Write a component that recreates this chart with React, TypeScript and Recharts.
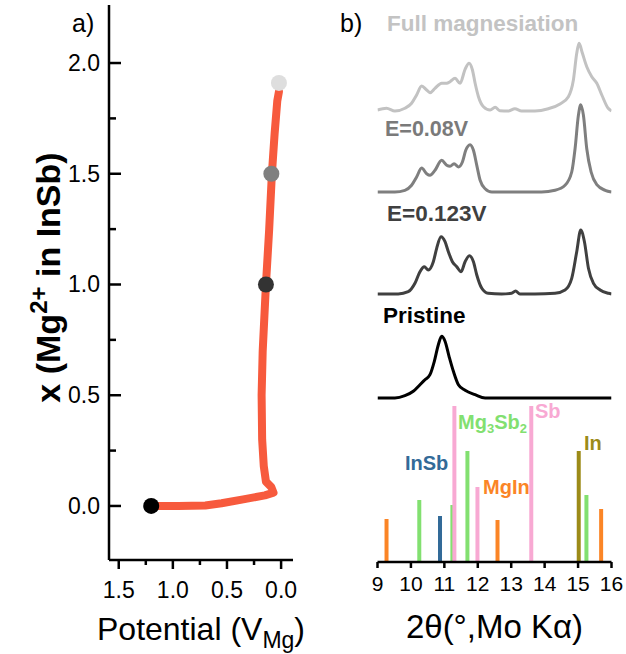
import React from "react";
import { ComposedChart, Line, Scatter, Cell, XAxis, YAxis, Label } from "recharts";

const FONT = "'Liberation Sans', Arial, Helvetica, sans-serif";

// ---- panel a: x(Mg) vs potential ----
const potential = [1.2, 0.95, 0.7, 0.55, 0.35, 0.15, 0.07, 0.09, 0.14, 0.16, 0.175, 0.18, 0.17, 0.155, 0.14, 0.11, 0.085, 0.06, 0.035, 0.02];
const xMg = [0, 0, 0.002, 0.012, 0.03, 0.048, 0.06, 0.085, 0.11, 0.18, 0.3, 0.5, 0.7, 0.85, 1.0, 1.25, 1.5, 1.68, 1.83, 1.87];
const markerPotential = [1.2, 0.14, 0.09, 0.02];
const markerX = [0, 1.0, 1.5, 1.91];
const markerColors = ["#000000", "#333333", "#7f7f7f", "#dedede"];
const aXTicks = [0, 0.25, 0.5, 0.75, 1, 1.25, 1.5];
const aYTicks = [0, 0.25, 0.5, 0.75, 1, 1.25, 1.5, 1.75, 2];

// ---- panel b: XRD patterns (2theta, intensity above own baseline) ----
const fullMag: [number, number][] = [
  [9.0, 1], [9.27, 2.7], [9.52, 0], [9.82, 2.7], [10.02, 7.7], [10.17, 16], [10.32, 25], [10.47, 21], [10.57, 18.3],
  [10.72, 22.7], [10.92, 27.7], [11.07, 27.7], [11.17, 29.3], [11.32, 32.7], [11.47, 27.7], [11.62, 41.7], [11.74, 47.7],
  [11.84, 41], [11.92, 27.7], [12.02, 14.3], [12.17, 4.3], [12.37, 1], [12.52, 3.7], [12.66, 0.3], [12.91, 0], [13.11, 2.3],
  [13.31, 0], [13.71, 0], [14.11, 2.3], [14.46, 7], [14.71, 14.3], [14.86, 31], [14.96, 57.7], [15.03, 67.7], [15.13, 57.7],
  [15.26, 44.3], [15.41, 34.3], [15.56, 27.7], [15.71, 16], [15.9, 2.7], [16.0, 0],
];
const e008: [number, number][] = [
  [9.0, 0], [9.52, 0], [9.82, 1.7], [10.02, 6.7], [10.17, 15], [10.32, 24], [10.47, 18.3], [10.57, 16.7], [10.72, 21.7],
  [10.92, 31.7], [11.07, 26.7], [11.17, 25.7], [11.29, 28.3], [11.42, 25], [11.54, 30], [11.64, 41.7], [11.77, 47.3],
  [11.87, 41.7], [11.97, 26.7], [12.07, 11.7], [12.22, 3.3], [12.42, 0], [12.91, 0], [13.91, 0], [14.31, 1.7], [14.61, 6.7],
  [14.81, 20], [14.91, 43.3], [15.01, 76.7], [15.08, 87.3], [15.16, 76.7], [15.26, 43.3], [15.39, 20], [15.56, 7.3],
  [15.81, 1.7], [16.0, 0],
];
const e0123: [number, number][] = [
  [9.0, 0], [9.62, 0], [9.92, 2.3], [10.12, 10.7], [10.27, 22.3], [10.4, 27.3], [10.52, 24], [10.67, 32.3], [10.77, 45.7],
  [10.9, 57.3], [11.02, 52.3], [11.12, 42.3], [11.24, 32.3], [11.37, 27.3], [11.5, 22.3], [11.62, 32.3], [11.75, 38.3],
  [11.87, 32.3], [11.97, 19], [12.12, 5.7], [12.31, 0.7], [12.71, 0], [13.01, 0.7], [13.13, 3], [13.26, 0], [13.71, 0],
  [14.31, 0.7], [14.61, 4], [14.81, 15.7], [14.96, 42.3], [15.08, 64], [15.19, 52.3], [15.31, 25.7], [15.46, 10.7],
  [15.66, 4], [15.91, 0.7], [16.0, 0],
];
const pristine: [number, number][] = [
  [9.0, 0], [9.52, 0], [9.82, 2.3], [10.07, 6.7], [10.27, 13.3], [10.42, 18.3], [10.57, 23.3], [10.7, 36.7], [10.82, 53.3],
  [10.92, 61.7], [11.02, 56.7], [11.14, 41.7], [11.27, 26.7], [11.42, 13.3], [11.62, 7.7], [11.92, 3.3], [12.22, 0],
  [12.91, 0], [16.0, 0],
];
const spectrumOffsets = [451, 370, 268, 164];
const spectrumColors = ["#c2c2c2", "#7f7f7f", "#404040", "#000000"];

// reference sticks (2theta, relative height)
const mgInRefs: [number, number][] = [[9.27, 43], [12.59, 42], [15.69, 53]];
const mg3sb2Refs: [number, number][] = [[10.25, 62], [11.24, 57], [11.69, 111], [15.25, 67]];
const inSbRefs: [number, number][] = [[10.87, 46]];
const sbRefs: [number, number][] = [[11.3, 156], [11.99, 75], [13.6, 156]];
const inRefs: [number, number][] = [[15.02, 111]];
const bXTicks = [9, 10, 11, 12, 13, 14, 15, 16];

const lineA = potential.map((v, i) => ({ v, x: xMg[i] }));
const markersA = markerPotential.map((v, i) => ({ v, x: markerX[i] }));
const spectra = [fullMag, e008, e0123, pristine].map((s, k) =>
  s.map(([t, y]) => ({ t, y: y + spectrumOffsets[k] }))
);
const sticks = (refs: [number, number][]) =>
  refs.flatMap(([t, h]) => [{ t, y: 0 }, { t, y: h }, { t, y: null }]);

const stickSets = [
  { data: sticks(mgInRefs), color: "#fb8526" },
  { data: sticks(mg3sb2Refs), color: "#82e070" },
  { data: sticks(inSbRefs), color: "#326a98" },
  { data: sticks(sbRefs), color: "#f8a9d3" },
  { data: sticks(inRefs), color: "#9c8b18" },
];

const frame = { stroke: "#000", strokeWidth: 2.5 };

const isMajor = (v: number) => Math.abs(v * 2 - Math.round(v * 2)) < 1e-6;

const AXTick = (p: any) => {
  const v = p.payload.value;
  const major = isMajor(v);
  return (
    <g>
      <line x1={p.x} x2={p.x} y1={p.y} y2={p.y + (major ? 9 : 5)} stroke="#000" strokeWidth={2.5} />
      {major && (
        <text x={p.x} y={p.y + 30} textAnchor="middle" dominantBaseline="central" fontSize={23} fill="#000">
          {v.toFixed(1)}
        </text>
      )}
    </g>
  );
};

const AYTick = (p: any) => {
  const v = p.payload.value;
  const major = isMajor(v);
  return (
    <g>
      <line x1={p.x} x2={p.x + (major ? 12 : 7)} y1={p.y} y2={p.y} stroke="#000" strokeWidth={2.5} />
      {major && (
        <text x={p.x - 9} y={p.y} textAnchor="end" dominantBaseline="central" fontSize={23} fill="#000">
          {v.toFixed(1)}
        </text>
      )}
    </g>
  );
};

const PanelA = () => (
  <ComposedChart width={330} height={654} margin={{ top: 5, right: 37, bottom: 0, left: 0 }}>
    <XAxis
      xAxisId="b"
      type="number"
      dataKey="v"
      domain={[-0.11, 1.59]}
      reversed
      allowDataOverflow
      ticks={aXTicks}
      interval={0}
      tick={AXTick}
      tickLine={false}
      tickSize={0}
      tickMargin={0}
      axisLine={frame}
      height={94}
    >
      <Label
        content={({ viewBox }: any) => (
          <text x={viewBox.x + viewBox.width / 2} y={viewBox.y + 80} textAnchor="middle" fontSize={32} fill="#000">
            Potential (V
            <tspan fontSize={23} dy={8}>Mg</tspan>
            <tspan dy={-8}>)</tspan>
          </text>
        )}
      />
    </XAxis>
    <XAxis xAxisId="t" orientation="top" type="number" domain={[-0.11, 1.59]} reversed allowDataOverflow height={0} tick={false} tickLine={false} axisLine={frame} />
    <YAxis
      yAxisId="l"
      type="number"
      dataKey="x"
      domain={[-0.244, 2.262]}
      allowDataOverflow
      ticks={aYTicks}
      interval={0}
      tick={AYTick}
      tickLine={false}
      tickSize={0}
      tickMargin={0}
      axisLine={frame}
      width={109}
    >
      <Label
        content={({ viewBox }: any) => {
          const cx = 60;
          const cy = viewBox.y + viewBox.height / 2 - 5;
          return (
            <text x={cx} y={cy} transform={`rotate(-90, ${cx}, ${cy})`} textAnchor="middle" fontSize={34} fontWeight="bold" fill="#000">
              x (Mg
              <tspan fontSize={24} dy={-13}>2+</tspan>
              <tspan dy={13}> in InSb)</tspan>
            </text>
          );
        }}
      />
    </YAxis>
    <YAxis yAxisId="r" orientation="right" type="number" domain={[-0.244, 2.262]} allowDataOverflow width={0} tick={false} tickLine={false} axisLine={frame} />
    <Line
      xAxisId="b"
      yAxisId="l"
      data={lineA}
      dataKey="x"
      type="linear"
      stroke="#f75a3d"
      strokeWidth={8}
      strokeLinecap="round"
      strokeLinejoin="round"
      dot={false}
      isAnimationActive={false}
    />
    <Scatter
      xAxisId="b"
      yAxisId="l"
      data={markersA}
      dataKey="x"
      isAnimationActive={false}
      shape={(p: any) => <circle cx={p.cx} cy={p.cy} r={8} fill={p.fill} />}
    >
      {markersA.map((_, i) => (
        <Cell key={i} fill={markerColors[i]} />
      ))}
    </Scatter>
  </ComposedChart>
);

const PanelB = () => (
  <ComposedChart width={296} height={654} margin={{ top: 5, right: 14.5, bottom: 0, left: 47.5 }}>
    <XAxis
      xAxisId="b"
      type="number"
      dataKey="t"
      domain={[9, 16]}
      allowDataOverflow
      ticks={bXTicks}
      interval={0}
      tickSize={6}
      tickMargin={8}
      tickLine={{ stroke: "#000", strokeWidth: 2.5 }}
      tick={{ fontSize: 21, fill: "#000" }}
      axisLine={frame}
      height={92}
    >
      <Label
        content={({ viewBox }: any) => (
          <text x={viewBox.x + viewBox.width / 2} y={viewBox.y + 76} textAnchor="middle" fontSize={33} fill="#000">
            2θ(°,Mo Kα)
          </text>
        )}
      />
    </XAxis>
    <XAxis xAxisId="t" orientation="top" type="number" domain={[9, 16]} allowDataOverflow height={0} tick={false} tickLine={false} axisLine={frame} />
    <YAxis yAxisId="l" type="number" dataKey="y" domain={[0, 557]} allowDataOverflow width={0} tick={false} tickLine={false} axisLine={frame} />
    <YAxis yAxisId="r" orientation="right" type="number" domain={[0, 557]} allowDataOverflow width={0} tick={false} tickLine={false} axisLine={frame} />
    {stickSets.map((s, i) => (
      <Line
        key={"s" + i}
        xAxisId="b"
        yAxisId="l"
        data={s.data}
        dataKey="y"
        type="linear"
        stroke={s.color}
        strokeWidth={4}
        dot={false}
        connectNulls={false}
        isAnimationActive={false}
      />
    ))}
    {spectra.map((d, i) => (
      <Line
        key={"p" + i}
        xAxisId="b"
        yAxisId="l"
        data={d}
        dataKey="y"
        type="monotone"
        stroke={spectrumColors[i]}
        strokeWidth={3}
        strokeLinejoin="round"
        dot={false}
        isAnimationActive={false}
      />
    ))}
  </ComposedChart>
);

const txt = (
  text: React.ReactNode,
  left: number,
  cy: number,
  color: string,
  size: number,
  bold = true
) => (
  <div
    style={{
      position: "absolute",
      left,
      top: cy - size * 0.6,
      lineHeight: `${size * 1.2}px`,
      fontSize: size,
      fontWeight: bold ? "bold" : "normal",
      color,
      whiteSpace: "nowrap",
    }}
  >
    {text}
  </div>
);

export default function App() {
  return (
    <div style={{ position: "absolute", left: 0, top: 0, width: 626, height: 654, background: "#fff", fontFamily: FONT }}>
      <div style={{ position: "absolute", left: 0, top: 0 }}>
        <PanelA />
      </div>
      <div style={{ position: "absolute", left: 330, top: 0 }}>
        <PanelB />
      </div>
      {txt("a)", 72, 23, "#000", 25, false)}
      {txt("b)", 340, 23, "#000", 25, false)}
      {txt("Full magnesiation", 387, 23, "#c3c3c3", 22.5)}
      {txt("E=0.08V", 385, 130, "#7a7a7a", 21.5)}
      {txt("E=0.123V", 387, 213, "#404040", 22.5)}
      {txt("Pristine", 383, 315, "#000", 22.5)}
      {txt("InSb", 405, 463, "#326a98", 20)}
      {txt(
        <span>
          Mg<sub style={{ fontSize: 13, verticalAlign: "-4px", lineHeight: 0 }}>3</sub>Sb
          <sub style={{ fontSize: 13, verticalAlign: "-4px", lineHeight: 0 }}>2</sub>
        </span>,
        458,
        422,
        "#82e070",
        20
      )}
      {txt("Sb", 535, 411, "#f8a9d3", 20)}
      {txt("MgIn", 483, 487, "#fb8526", 20)}
      {txt("In", 584, 443, "#9c8b18", 20)}
    </div>
  );
}
